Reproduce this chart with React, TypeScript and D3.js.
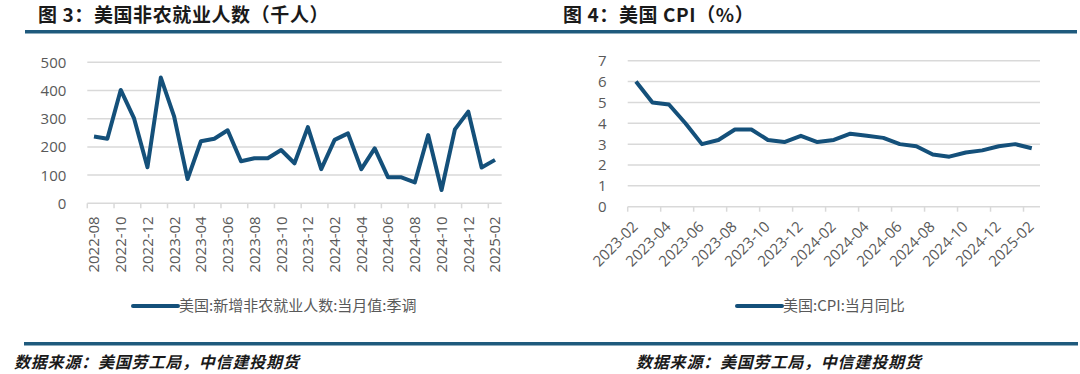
import React, { useEffect, useRef } from 'react';
import * as d3 from 'd3';

// 图3 非农：2022-08 ~ 2025-02（千人）
const nfpMonths = [
  '2022-08', '2022-09', '2022-10', '2022-11', '2022-12',
  '2023-01', '2023-02', '2023-03', '2023-04', '2023-05', '2023-06',
  '2023-07', '2023-08', '2023-09', '2023-10', '2023-11', '2023-12',
  '2024-01', '2024-02', '2024-03', '2024-04', '2024-05', '2024-06',
  '2024-07', '2024-08', '2024-09', '2024-10', '2024-11', '2024-12',
  '2025-01', '2025-02',
];
const nfpValues = [
  237, 229, 402, 301, 128,
  446, 307, 86, 220, 229, 259,
  149, 160, 160, 189, 142, 270,
  121, 225, 248, 121, 195, 92,
  92, 74, 242, 47, 262, 325,
  127, 154,
];

// 图4 CPI：2023-02 ~ 2025-02（%）
const cpiMonths = [
  '2023-02', '2023-03', '2023-04', '2023-05', '2023-06', '2023-07',
  '2023-08', '2023-09', '2023-10', '2023-11', '2023-12',
  '2024-01', '2024-02', '2024-03', '2024-04', '2024-05', '2024-06',
  '2024-07', '2024-08', '2024-09', '2024-10', '2024-11', '2024-12',
  '2025-01', '2025-02',
];
const cpiValues = [
  6.0, 5.0, 4.9, 4.0, 3.0, 3.2,
  3.7, 3.7, 3.2, 3.1, 3.4,
  3.1, 3.2, 3.5, 3.4, 3.3, 3.0,
  2.9, 2.5, 2.4, 2.6, 2.7, 2.9,
  3.0, 2.8,
];

const titles = ['图 3：美国非农就业人数（千人）', '图 4：美国 CPI（%）'];
const legendNames = ['美国:新增非农就业人数:当月值:季调', '美国:CPI:当月同比'];
const sourceText = '数据来源：美国劳工局，中信建投期货';

const LINE_COLOR = '#14507a';
const RULE_COLOR = '#1f5a7d';
const GRID_COLOR = '#d9d9d9';
const TEXT_COLOR = '#595959';
const NUM_FONT = '"Open Sans", "Noto Sans", sans-serif';
const CJK_FONT = '"Noto Sans CJK SC", "Noto Sans", sans-serif';

const drawChart = (svg, opts) => {
  const { months, values, yMax, yTicks, left, right, top, bottom, rotate, legendX, legendName } = opts;

  const x = d3.scaleBand().domain(months).range([left, right]);
  const y = d3.scaleLinear().domain([0, yMax]).range([bottom, top]);
  const g = svg.append('g');

  // gridlines
  g.selectAll('line.grid')
    .data(y.ticks(yTicks).filter(d => d > 0))
    .enter()
    .append('line')
    .attr('x1', left)
    .attr('x2', right)
    .attr('y1', d => y(d))
    .attr('y2', d => y(d))
    .attr('stroke', GRID_COLOR)
    .attr('stroke-width', 1.5);

  // y labels
  g.selectAll('text.ylab')
    .data(y.ticks(yTicks))
    .enter()
    .append('text')
    .attr('x', left - 21)
    .attr('y', d => y(d))
    .attr('dy', '0.36em')
    .attr('text-anchor', 'end')
    .attr('font-family', NUM_FONT)
    .attr('font-size', 15)
    .attr('fill', TEXT_COLOR)
    .text(d => d);

  // x axis line + ticks at every second category boundary
  g.append('line')
    .attr('x1', left)
    .attr('x2', right)
    .attr('y1', y(0))
    .attr('y2', y(0))
    .attr('stroke', GRID_COLOR)
    .attr('stroke-width', 1.5);

  const shown = months.filter((d, i) => i % 2 === 0);
  g.selectAll('line.tick')
    .data(shown)
    .enter()
    .append('line')
    .attr('x1', d => x(d))
    .attr('x2', d => x(d))
    .attr('y1', y(0))
    .attr('y2', y(0) + 5)
    .attr('stroke', GRID_COLOR)
    .attr('stroke-width', 1.5);

  const labels = g.selectAll('text.xlab')
    .data(shown)
    .enter()
    .append('text')
    .attr('text-anchor', 'end')
    .attr('font-family', NUM_FONT)
    .attr('font-size', 15)
    .attr('fill', TEXT_COLOR)
    .text(d => d);

  if (rotate === -90) {
    labels
      .attr('dy', '0.36em')
      .attr('transform', d => `translate(${x(d) + x.bandwidth() / 2},${y(0) + 13}) rotate(-90)`);
  } else {
    labels
      .attr('transform', d => `translate(${x(d) + x.bandwidth() / 2 + 3},${y(0) + 21}) rotate(-45)`);
  }

  // series line
  const line = d3.line()
    .x((d, i) => x(months[i]) + x.bandwidth() / 2)
    .y(d => y(d));

  g.append('path')
    .datum(values)
    .attr('d', line)
    .attr('fill', 'none')
    .attr('stroke', LINE_COLOR)
    .attr('stroke-width', 4)
    .attr('stroke-linejoin', 'round');

  // legend
  const ly = 306;
  g.append('line')
    .attr('x1', legendX)
    .attr('x2', legendX + 45)
    .attr('y1', ly)
    .attr('y2', ly)
    .attr('stroke', LINE_COLOR)
    .attr('stroke-width', 4)
    .attr('stroke-linecap', 'round');

  g.append('text')
    .attr('x', legendX + 46)
    .attr('y', ly)
    .attr('dy', '0.35em')
    .attr('font-family', CJK_FONT)
    .attr('font-size', 15)
    .attr('fill', TEXT_COLOR)
    .text(legendName);
};

const App = () => {
  const ref = useRef(null);

  useEffect(() => {
    const svg = d3.select(ref.current);
    svg.selectAll('*').remove();

    // titles
    svg.selectAll('text.title')
      .data(titles)
      .enter()
      .append('text')
      .attr('x', (d, i) => (i === 0 ? 38 : 563))
      .attr('y', 22)
      .attr('font-family', CJK_FONT)
      .attr('font-weight', 700)
      .attr('font-size', 19)
      .attr('letter-spacing', 0.6)
      .attr('fill', '#1a1a1a')
      .text(d => d);

    // top and bottom rules
    svg.append('rect').attr('x', 25).attr('y', 30).attr('width', 1052).attr('height', 3.5).attr('fill', RULE_COLOR);
    svg.append('rect').attr('x', 24).attr('y', 342).attr('width', 1054).attr('height', 3.5).attr('fill', RULE_COLOR);

    drawChart(svg, {
      months: nfpMonths,
      values: nfpValues,
      yMax: 500,
      yTicks: 5,
      left: 87.3,
      right: 501.7,
      top: 62.3,
      bottom: 203.3,
      rotate: -90,
      legendX: 133,
      legendName: legendNames[0],
    });

    drawChart(svg, {
      months: cpiMonths,
      values: cpiValues,
      yMax: 7,
      yTicks: 7,
      left: 627.7,
      right: 1040,
      top: 60.7,
      bottom: 206.7,
      rotate: -45,
      legendX: 737,
      legendName: legendNames[1],
    });

    // source footers
    svg.selectAll('text.source')
      .data([14, 636])
      .enter()
      .append('text')
      .attr('x', d => d)
      .attr('y', 368)
      .attr('font-family', CJK_FONT)
      .attr('font-style', 'italic')
      .attr('font-weight', 700)
      .attr('font-size', 16)
      .attr('letter-spacing', 0.8)
      .attr('fill', '#1a1a1a')
      .text(sourceText);
  }, []);

  return (
    <div style={{ position: 'absolute', left: 0, top: 0 }}>
      <svg ref={ref} width={1080} height={374} style={{ display: 'block', background: '#fff' }}></svg>
    </div>
  );
};

export default App;
